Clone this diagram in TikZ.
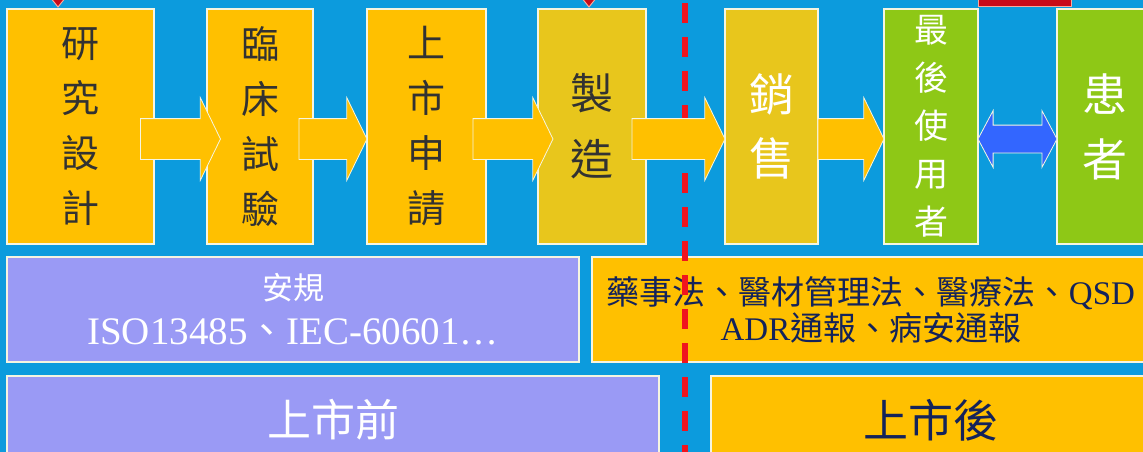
\documentclass[tikz,border=0pt]{standalone}
\usepackage{fontspec}
\setmainfont{Liberation Serif}
\newfontfamily\cjk{Noto Sans CJK TC}
\usetikzlibrary{shapes.arrows,calc}
\definecolor{bg}{RGB}{12,155,221}
\definecolor{orng}{RGB}{255,192,0}
\definecolor{dkyel}{RGB}{232,198,28}
\definecolor{grn}{RGB}{142,200,22}
\definecolor{purp}{RGB}{154,154,245}
\definecolor{barrow}{RGB}{51,102,255}
\definecolor{navy}{RGB}{20,35,90}
\definecolor{txtdark}{RGB}{50,50,50}
\definecolor{redl}{RGB}{240,20,30}
\definecolor{redf}{RGB}{200,10,25}
\definecolor{rim}{RGB}{245,245,225}
\begin{document}
\begin{tikzpicture}[x=1pt,y=-1pt,
  box/.style={draw=rim, line width=1.2pt, inner sep=0pt, outer sep=0pt, align=center},
  topbox/.style={box, minimum height=235pt, font=\cjk\fontsize{38}{55}\selectfont, text=txtdark},
  blockarr/.style={single arrow, fill=orng, draw=rim, line width=0.8pt, inner xsep=0pt, inner ysep=20pt,
    single arrow head extend=21pt, single arrow tip angle=128},
  dblarr/.style={double arrow, fill=barrow, draw=rim, line width=0.8pt, inner xsep=0pt, inner ysep=13.5pt,
    double arrow head extend=14.5pt, double arrow tip angle=124, minimum height=79pt},
  redtip/.style={fill=redf, draw=rim!70!red, line width=1pt},
  divider/.style={redl, line width=6pt, dash pattern=on 20pt off 14pt}]
\useasboundingbox (0,0) rectangle (1143,452);
\clip (0,0) rectangle (1143,452);
\fill[bg] (0,0) rectangle (1143,452);

% bottom boxes
\node[box, fill=purp, minimum width=572pt, minimum height=105pt, text=white,
  font=\fontsize{39}{42}\selectfont] (b1) at (293,309.5)
  {{\cjk\fontsize{31}{40}\selectfont 安規}\\[3pt] ISO13485{\cjk 、}IEC-60601…};
\node[box, fill=orng, minimum width=558pt, minimum height=105pt, text=navy,
  font=\fontsize{33}{36}\selectfont] (b2) at (871,309.5)
  {{\cjk 藥事法、醫材管理法、醫療法、}QSD\\ADR{\cjk 通報、病安通報}};
\node[box, fill=purp, minimum width=652pt, minimum height=88pt, text=white,
  font=\cjk\fontsize{44}{50}\selectfont] (b3) at (333,420) {上市前};
\node[box, fill=orng, minimum width=439pt, minimum height=88pt, text=navy,
  font=\cjk\fontsize{45}{50}\selectfont] (b4) at (930.5,420) {上市後};

% top boxes
\node[topbox, fill=orng, minimum width=147pt] (r1) at (80.5,126.5) {研\\究\\設\\計};
\node[topbox, fill=orng, minimum width=106pt] (r2) at (260,126.5) {臨\\床\\試\\驗};
\node[topbox, fill=orng, minimum width=119pt] (r3) at (426.5,126.5) {上\\市\\申\\請};
\node[topbox, fill=dkyel, minimum width=108pt, font=\cjk\fontsize{43}{66}\selectfont] (r4) at (592,126.5) {製\\造};
\node[topbox, fill=dkyel, minimum width=93pt, text=white, font=\cjk\fontsize{45}{64}\selectfont] (r5) at (771.5,126.5) {銷\\售};
\node[topbox, fill=grn, minimum width=94pt, text=white, font=\cjk\fontsize{34}{48}\selectfont] (r6) at (931,126.5) {最\\後\\使\\用\\者};
\node[topbox, fill=grn, minimum width=96pt, text=white, font=\cjk\fontsize{45}{65}\selectfont] (r7) at (1105,126.5) {患\\者};

% dividing line
\coordinate (dtop) at (685,3);
\coordinate (dbot) at (685,460);
\draw[divider] (dtop) -- (dbot);

% arrows
\node[blockarr, minimum height=80pt] (a1) at ($(r1.east)!.5!(r2.west)+(-5,12.5)$) {};
\node[blockarr, minimum height=68pt] (a2) at ($(r2.east)!.5!(r3.west)+(-12,12.5)$) {};
\node[blockarr, minimum height=80pt] (a3) at ($(r3.east)!.5!(r4.west)+(-4,12.5)$) {};
\node[blockarr, minimum height=93pt] (a4) at ($(r4.east)!.5!(r5.west)+(-12,12.5)$) {};
\node[blockarr, minimum height=66pt] (a5) at ($(r5.east)!.5!(r6.west)+(-5,12.5)$) {};
\node[dblarr] (a6) at ($(r6.east)!.5!(r7.west)+(0,12.5)$) {};

% partial red shapes at the top edge
\path[redtip] (50,-3) -- (66,-3) -- (58,7) -- cycle;
\path[redtip] (581,-3) -- (597,-3) -- (589,7) -- cycle;
\path[redtip] (978,-3) rectangle (1071,7);
\end{tikzpicture}
\end{document}
